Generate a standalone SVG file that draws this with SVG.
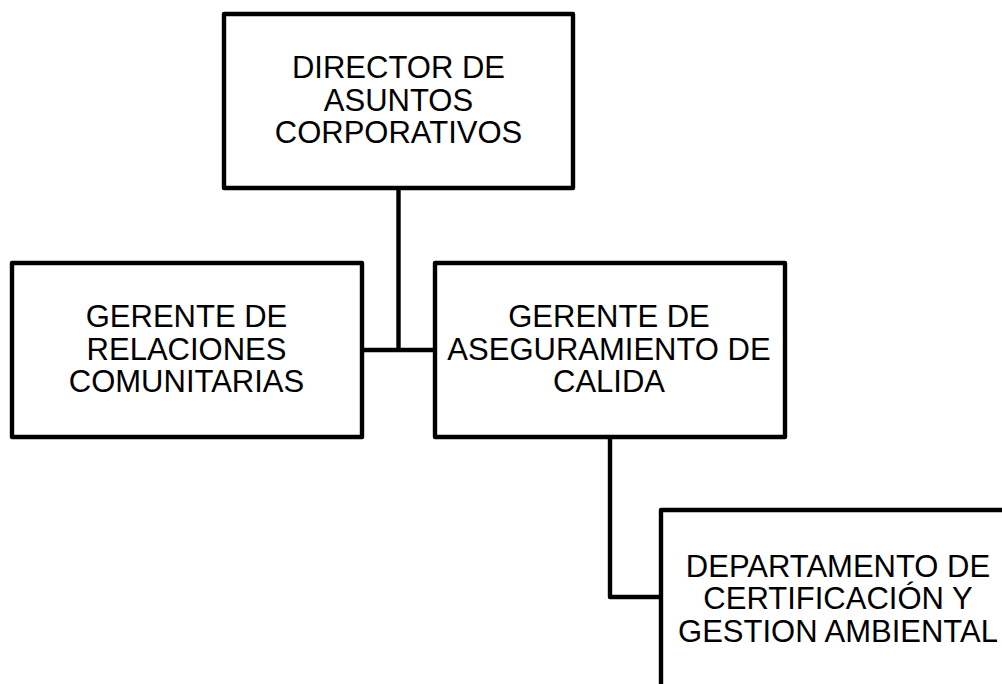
<svg xmlns="http://www.w3.org/2000/svg" width="1002" height="684" viewBox="0 0 1002 684">
<style>
.box{fill:#fff;stroke:#000;stroke-width:4.4;stroke-linejoin:round}
.conn{fill:none;stroke:#000;stroke-width:4.4;stroke-linejoin:round}
.t{font-family:"Liberation Sans",Arial,sans-serif;font-size:31px;fill:#000;text-anchor:middle}
</style>
<rect width="1002" height="684" fill="#fff"/>
<g id="connectors">
<path class="conn" d="M398.5 188 V350 M362 350 H435"/>
<path class="conn" d="M610 437 V597 H661"/>
</g>
<g id="director">
<rect class="box" x="224" y="14" width="349" height="174"/>
<text class="t" x="398.5" y="78">DIRECTOR DE</text>
<text class="t" x="398.5" y="110.5">ASUNTOS</text>
<text class="t" x="398.5" y="143">CORPORATIVOS</text>
</g>
<g id="relaciones">
<rect class="box" x="12" y="263" width="350" height="174"/>
<text class="t" x="186.5" y="327">GERENTE DE</text>
<text class="t" x="186.5" y="359.5">RELACIONES</text>
<text class="t" x="186.5" y="392">COMUNITARIAS</text>
</g>
<g id="calidad">
<rect class="box" x="435" y="263" width="350" height="174"/>
<text class="t" x="609" y="327">GERENTE DE</text>
<text class="t" x="609" y="359.5">ASEGURAMIENTO DE</text>
<text class="t" x="609" y="392">CALIDA</text>
</g>
<g id="departamento">
<rect class="box" x="661" y="510" width="350" height="190"/>
<text class="t" x="838" y="577">DEPARTAMENTO DE</text>
<text class="t" x="838" y="609">CERTIFICACIÓN Y</text>
<text class="t" x="838" y="641.5">GESTION AMBIENTAL</text>
</g>
</svg>
